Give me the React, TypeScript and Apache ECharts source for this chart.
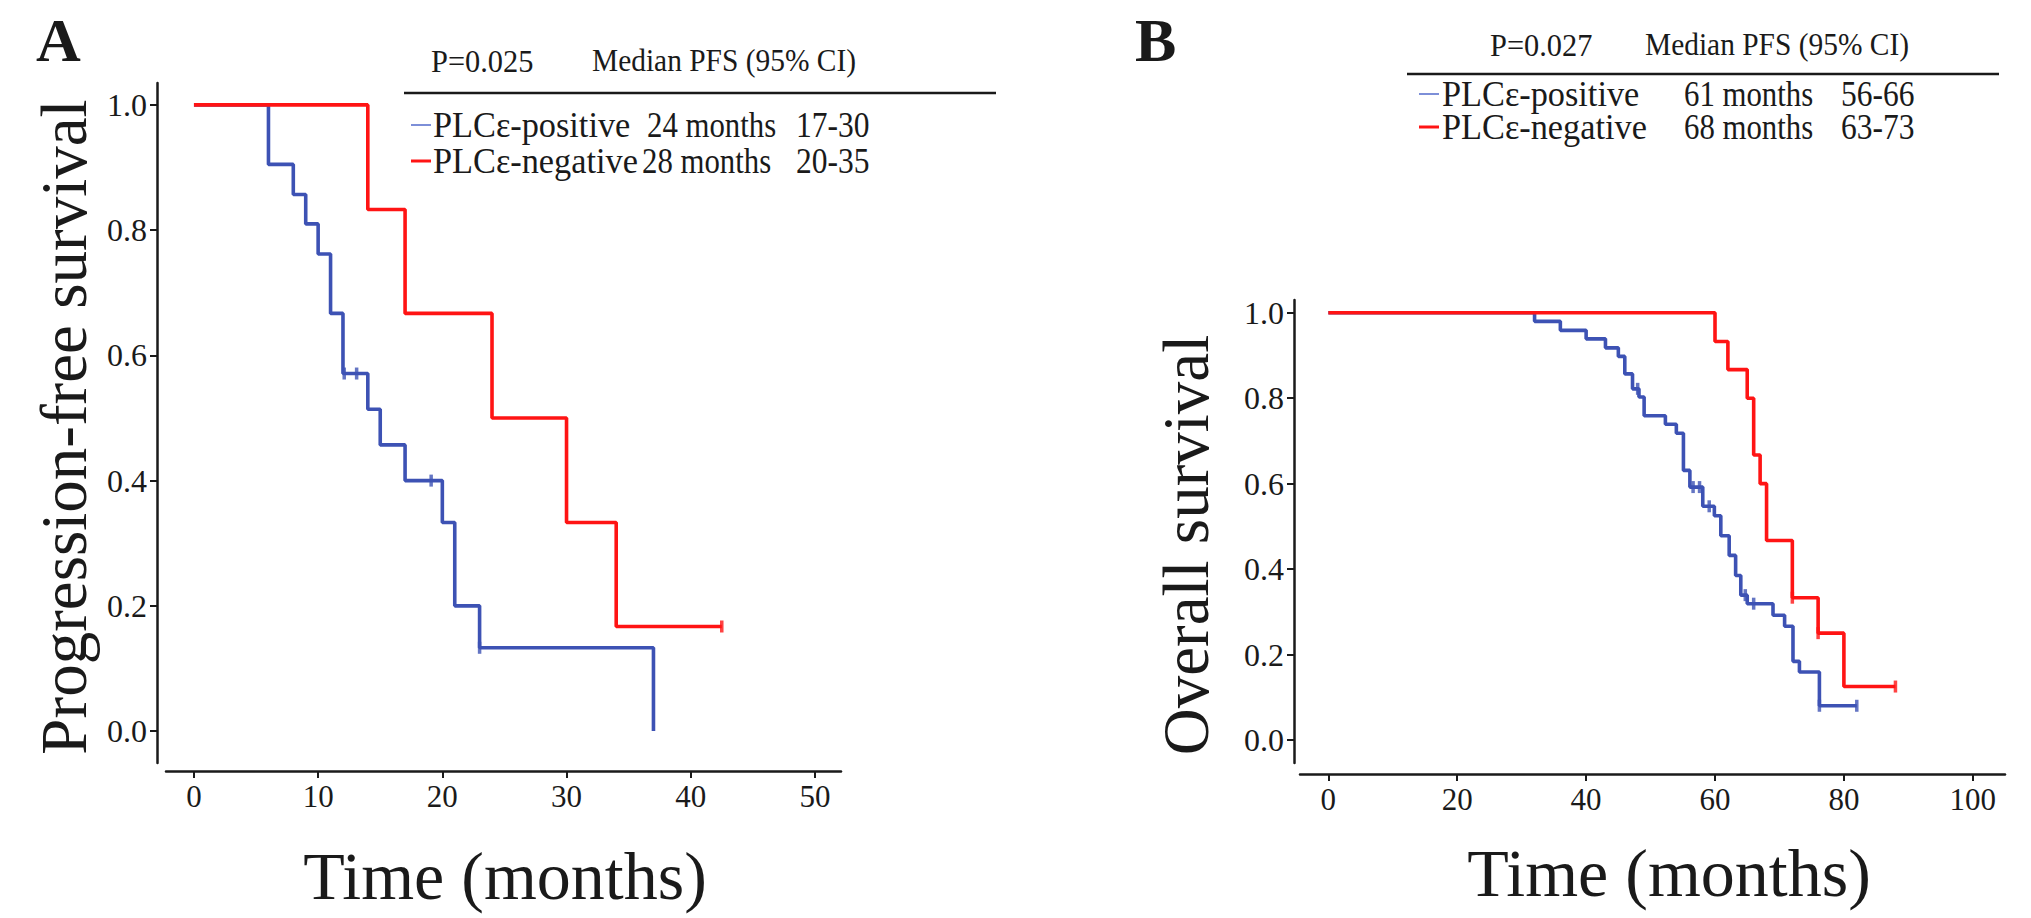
import React, { useEffect, useRef } from "react";
import * as echarts from "echarts";

// Panel A: progression-free survival (months)
const pfsPosTime = [0, 6, 8, 9, 10, 11, 12, 14, 15, 17, 20, 21, 23, 37];
const pfsPosSurv = [1, 0.905, 0.857, 0.81, 0.762, 0.667, 0.571, 0.514, 0.457, 0.4, 0.333, 0.2, 0.133, 0];
const pfsPosCensor = [12.1, 13.1, 19.1, 23];
const pfsNegTime = [0, 14, 17, 24, 30, 34, 42.5];
const pfsNegSurv = [1, 0.833, 0.667, 0.5, 0.333, 0.167, 0.167];
const pfsNegCensor = [42.5];

// Panel B: overall survival (months)
const osPosTime = [0, 32, 36, 40, 43, 45, 46, 47.2, 48.2, 49, 52.3, 54, 55.1, 56.1, 58.1, 59.9, 60.9, 62.2, 63.2, 64, 65, 69, 70.8, 72.1, 73.1, 76.2, 82];
const osPosSurv = [1, 0.98, 0.959, 0.939, 0.918, 0.898, 0.857, 0.822, 0.803, 0.759, 0.739, 0.718, 0.631, 0.592, 0.547, 0.525, 0.478, 0.432, 0.385, 0.339, 0.319, 0.292, 0.266, 0.184, 0.159, 0.08, 0.08];
const osPosCensor = [48.0, 56.6, 57.6, 59.1, 64.7, 66, 76.2, 82];
const osNegTime = [0, 60, 62, 65, 66, 67, 68, 72, 76, 80, 88];
const osNegSurv = [1, 0.933, 0.867, 0.8, 0.667, 0.6, 0.467, 0.333, 0.25, 0.125, 0.125];
const osNegCensor = [72, 76, 88];

const xTicksA = [0, 10, 20, 30, 40, 50];
const xTicksB = [0, 20, 40, 60, 80, 100];
const yTicks = [0, 0.2, 0.4, 0.6, 0.8, 1.0];

const legendA = {
  p: "P=0.025",
  head: "Median PFS (95% CI)",
  rows: [
    ["PLCε-positive", "24 months", "17-30"],
    ["PLCε-negative", "28 months", "20-35"],
  ],
};
const legendB = {
  p: "P=0.027",
  head: "Median PFS (95% CI)",
  rows: [
    ["PLCε-positive", "61 months", "56-66"],
    ["PLCε-negative", "68 months", "63-73"],
  ],
};

const BLUE = "#3d52b4";
const RED = "#ff1414";
const INK = "#1a1a1a";
const FONT = "'Liberation Serif', 'Times New Roman', serif";

function survAt(times: number[], surv: number[], t: number) {
  let v = surv[0];
  for (let i = 0; i < times.length; i++) if (times[i] <= t) v = surv[i];
  return v;
}
const zip = (a: number[], b: number[]) => a.map((v, i) => [v, b[i]]);
const censorPts = (c: number[], t: number[], s: number[]) => c.map((x) => [x, survAt(t, s, x)]);

export default function App() {
  const ref = useRef<HTMLDivElement>(null);
  useEffect(() => {
    if (!ref.current) return;
    const chart = echarts.init(ref.current, undefined, { renderer: "svg" });

    const axisCommon = {
      axisLine: { show: true, onZero: false, lineStyle: { color: INK, width: 2.5 } },
      axisTick: { show: true, inside: false, length: 7, lineStyle: { color: INK, width: 2 } },
      splitLine: { show: false },
    };
    const xAxis = (idx: number, min: number, max: number, ticks: number[], offset: number) => ({
      type: "value",
      gridIndex: idx,
      min,
      max,
      offset,
      ...axisCommon,
      axisTick: { ...axisCommon.axisTick, customValues: ticks },
      axisLabel: {
        customValues: ticks,
        fontFamily: FONT,
        fontSize: 31,
        color: INK,
        margin: 10,
        formatter: (v: number) => String(Math.round(v)),
      },
    });
    const yAxis = (idx: number, min: number, max: number, offset: number) => ({
      type: "value",
      gridIndex: idx,
      min,
      max,
      offset,
      ...axisCommon,
      axisTick: { ...axisCommon.axisTick, customValues: yTicks },
      axisLabel: {
        customValues: yTicks,
        fontFamily: FONT,
        fontSize: 32,
        color: INK,
        margin: 10,
        formatter: (v: number) => v.toFixed(1),
      },
    });

    const stepSeries = (name: string, xi: number, t: number[], s: number[], color: string) => ({
      name,
      type: "line",
      xAxisIndex: xi,
      yAxisIndex: xi,
      step: "end",
      data: zip(t, s),
      showSymbol: false,
      lineStyle: { color, width: 3.6 },
      itemStyle: { color },
      z: 3,
    });
    const censorSeries = (name: string, xi: number, c: number[], t: number[], s: number[], color: string) => ({
      name,
      type: "scatter",
      xAxisIndex: xi,
      yAxisIndex: xi,
      data: censorPts(c, t, s),
      symbol: "rect",
      symbolSize: [3.5, 12],
      itemStyle: { color },
      z: 4,
    });

    const txt = (text: string, x: number, y: number, size: number, opts: any = {}) => ({
      type: "text",
      x,
      y,
      rotation: opts.rotation || 0,
      scaleX: opts.scaleX || 1,
      style: {
        text,
        fontFamily: FONT,
        fontSize: size,
        fontWeight: opts.bold ? "bold" : "normal",
        fill: INK,
        align: opts.align || "left",
        verticalAlign: "middle",
      },
    });
    const hline = (x1: number, x2: number, y: number, color: string, w: number) => ({
      type: "line",
      shape: { x1, y1: y, x2, y2: y },
      style: { stroke: color, lineWidth: w },
    });

    const legendGraphics = (
      lg: typeof legendA,
      pX: number,
      headX: number,
      headY: number,
      lineX1: number,
      lineX2: number,
      lineY: number,
      swX: number,
      nameX: number,
      medX: number[],
      ciX: number,
      rowY: number[]
    ) => {
      const g: any[] = [
        txt(lg.p, pX, headY, 32, { scaleX: 0.95 }),
        txt(lg.head, headX, headY, 32, { scaleX: 0.92 }),
        hline(lineX1, lineX2, lineY, INK, 2.5),
      ];
      lg.rows.forEach((r, i) => {
        const col = i === 0 ? "#7d8fd8" : RED;
        g.push(hline(swX, swX + 20, rowY[i], col, i === 0 ? 2 : 3));
        g.push(txt(r[0], nameX, rowY[i], 35, { scaleX: 0.98 }));
        g.push(txt(r[1], medX[i], rowY[i], 35, { scaleX: 0.88 }));
        g.push(txt(r[2], ciX, rowY[i], 35, { scaleX: 0.9 }));
      });
      return g;
    };

    const graphic: any[] = [
      txt("A", 36, 40, 62, { bold: true }),
      txt("B", 1135, 40, 62, { bold: true }),
      txt("Progression-free survival", 64, 427, 65, { rotation: Math.PI / 2, align: "center" }),
      txt("Time (months)", 505, 876, 68, { align: "center" }),
      txt("Overall survival", 1186, 545, 65, { rotation: Math.PI / 2, align: "center" }),
      txt("Time (months)", 1669, 873, 68, { align: "center" }),
      ...legendGraphics(legendA, 431, 592, 61, 404, 996, 93, 411, 433, [647, 642], 796, [125, 161]),
      ...legendGraphics(legendB, 1490, 1645, 45, 1407, 1999, 74, 1419, 1442, [1684, 1684], 1841, [94, 127]),
    ];

    chart.setOption({
      animation: false,
      backgroundColor: "#ffffff",
      grid: [
        { left: 166, top: 83, width: 675, height: 680 },
        { left: 1300, top: 300, width: 705, height: 463 },
      ],
      xAxis: [
        xAxis(0, -2.25, 52.1, xTicksA, 8),
        xAxis(1, -4.4, 105, xTicksB, 11),
      ],
      yAxis: [yAxis(0, -0.051, 1.035, 9), yAxis(1, -0.054, 1.03, 6)],
      series: [
        stepSeries("PFS PLCε-positive", 0, pfsPosTime, pfsPosSurv, BLUE),
        stepSeries("PFS PLCε-negative", 0, pfsNegTime, pfsNegSurv, RED),
        censorSeries("PFS pos censored", 0, pfsPosCensor, pfsPosTime, pfsPosSurv, BLUE),
        censorSeries("PFS neg censored", 0, pfsNegCensor, pfsNegTime, pfsNegSurv, RED),
        stepSeries("OS PLCε-positive", 1, osPosTime, osPosSurv, BLUE),
        stepSeries("OS PLCε-negative", 1, osNegTime, osNegSurv, RED),
        censorSeries("OS pos censored", 1, osPosCensor, osPosTime, osPosSurv, BLUE),
        censorSeries("OS neg censored", 1, osNegCensor, osNegTime, osNegSurv, RED),
      ],
      graphic,
    });
    return () => chart.dispose();
  }, []);
  return (
    <div
      ref={ref}
      style={{ position: "fixed", left: 0, top: 0, width: 2031, height: 918, background: "#fff" }}
    />
  );
}
